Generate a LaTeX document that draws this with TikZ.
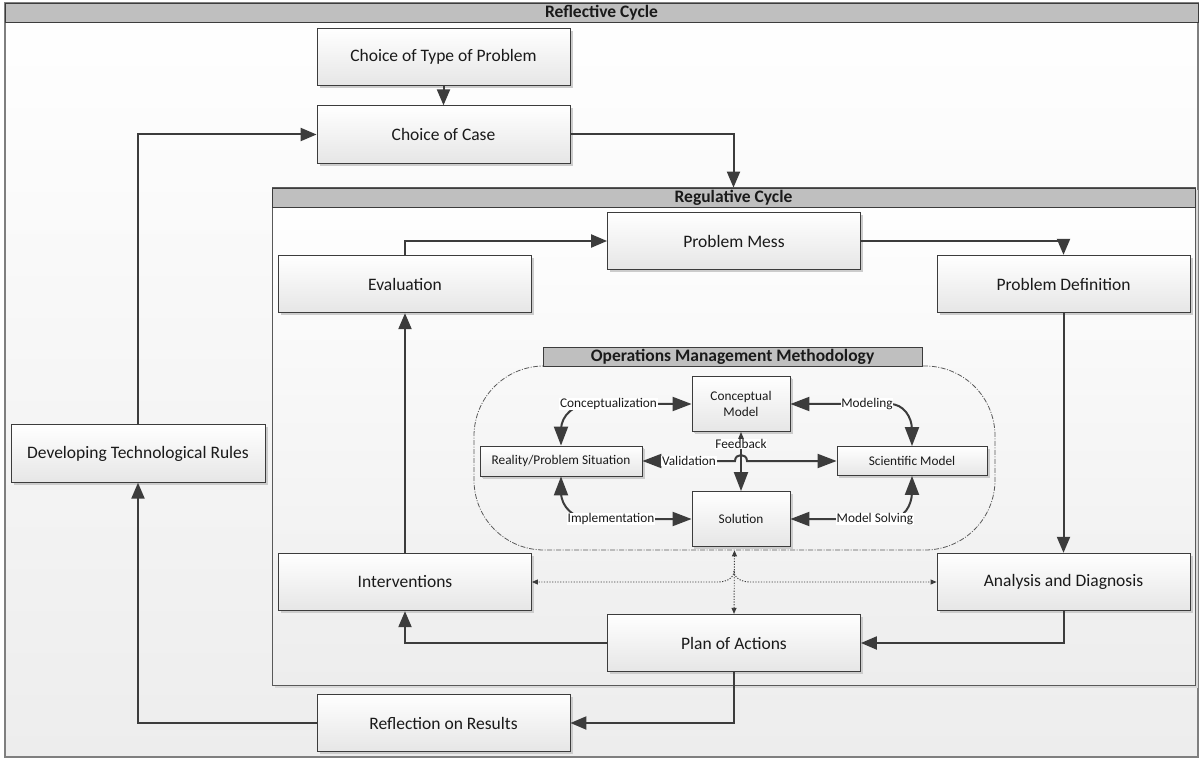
\documentclass[tikz,border=0pt]{standalone}
\usepackage{fontspec}
\setmainfont{Carlito}
\usetikzlibrary{arrows.meta,shadows}
\definecolor{ink}{HTML}{1A1A1A}
\definecolor{wire}{HTML}{3C3C3C}
\definecolor{frameline}{HTML}{7F7F7F}
\definecolor{barfill}{HTML}{BFBFBF}
\definecolor{boxbottom}{HTML}{E6E6E6}
\definecolor{paperbottom}{HTML}{EDEDED}

\begin{document}
\begin{tikzpicture}[x=1pt,y=-1pt,
  every node/.style={text=ink},
  stage/.style={rectangle, draw=wire, line width=0.8pt, top color=white, bottom color=boxbottom,
    minimum width=253pt, minimum height=57.5pt, inner sep=0pt,
    font=\fontsize{17.5}{20}\selectfont,
    drop shadow={shadow xshift=2.5pt, shadow yshift=-2.5pt, fill=black!20, opacity=1}},
  ommbox/.style={stage, font=\fontsize{13.3}{15.5}\selectfont, align=center,
    drop shadow={shadow xshift=2pt, shadow yshift=-2pt, fill=black!20, opacity=1}},
  titlebar/.style={rectangle, draw=wire, line width=0.8pt, fill=barfill, inner sep=0pt,
    minimum height=19pt, font=\fontsize{17.5}{19}\selectfont\bfseries},
  flow/.style={draw=wire, line width=2pt, -{Triangle[length=16pt,width=13pt]}},
  link/.style={draw=wire, line width=2pt,
    {Triangle[length=19pt,width=14pt]}-{Triangle[length=19pt,width=14pt]}},
  shortlink/.style={draw=wire, line width=2pt,
    {Triangle[length=19pt,width=14pt]}-{Triangle[length=15pt,width=12pt]}},
  hint/.style={draw=wire, line width=0.9pt, dash pattern=on 1.2pt off 1.5pt,
    -{Triangle[length=6pt,width=5pt]}},
  tag/.style={fill=white, inner sep=0.6pt, font=\fontsize{13.3}{15}\selectfont},
]
\useasboundingbox (0,0) rectangle (1203,759);

% reflective cycle frame
\path[draw=frameline, line width=1.4pt, top color=white, bottom color=paperbottom]
  (5,3) rectangle (1198,757);
\node[titlebar, minimum width=1193pt] (reflbar) at (601.5,12.5) {Reflective Cycle};

% regulative cycle frame
\path[draw=wire!85, line width=1pt, top color=white, bottom color=paperbottom,
  drop shadow={shadow xshift=2.5pt, shadow yshift=-2.5pt, fill=black!15, opacity=1}]
  (272,188) rectangle (1195,685);
\node[titlebar, minimum width=923pt] (regbar) at (733.5,197.5) {Regulative Cycle};

% stages of both cycles
\node[stage] (ctp) at (443.5,57) {Choice of Type of Problem};
\node[stage] (coc) at (443.5,134.5) {Choice of Case};
\node[stage, minimum width=254pt] (dtr) at (138,453.5) {Developing Technological Rules};
\node[stage] (pm) at (734,241) {Problem Mess};
\node[stage] (eval) at (405,284) {Evaluation};
\node[stage] (pd) at (1063.5,284) {Problem Definition};
\node[stage] (interv) at (405,582) {Interventions};
\node[stage] (ad) at (1063.5,582) {Analysis and Diagnosis};
\node[stage] (poa) at (734,643) {Plan of Actions};
\node[stage] (ror) at (443.5,723) {Reflection on Results};

% operations management methodology
\node[draw=wire!85, line width=0.8pt, dash pattern=on 5pt off 1.5pt on 1pt off 1.5pt,
  rounded corners=70pt, minimum width=521pt, minimum height=184pt, inner sep=0pt]
  (omm) at (734.5,458) {};
\node[titlebar, minimum width=379pt] (ommbar) at (732.5,356.5) {Operations Management Methodology};

\node[ommbox, minimum width=98pt, minimum height=55pt] (cm) at (741,404) {Conceptual\\Model};
\node[ommbox, minimum width=98pt, minimum height=55pt] (sol) at (741,519) {Solution};
\node[ommbox, minimum width=162pt, minimum height=30pt] (rps) at (561,461) {Reality/Problem Situation};
\node[ommbox, minimum width=150pt, minimum height=29pt] (sm) at (912,461) {Scientific Model};

\draw[link] (rps.north) -- (561,430) to[out=90,in=180] (590,404) -- (cm.west);
\draw[link] (cm.east) -- (890,404) to[out=0,in=90] (912,430) -- (sm.north);
\draw[link] (rps.east) -- (735,461) to[out=90,in=90,looseness=1.7] (747,461) -- (sm.west);
\draw[shortlink] (sol.north) -- (cm.south);
\draw[link] (rps.south) -- (561,492) to[out=-90,in=180] (590,519) -- (sol.west);
\draw[link] (sm.south) -- (912,492) to[out=-90,in=0] (890,519) -- (sol.east);

\node[tag] (tconc) at (608.5,404) {Conceptualization};
\node[tag] (tmod) at (867,404) {Modeling};
\node[tag] (tval) at (689,461) {Validation};
\node[tag] (tfeed) at (741,444) {Feedback};
\node[tag] (timpl) at (611,519) {Implementation};
\node[tag] (tsolv) at (875,519) {Model Solving};

% dotted links between the methodology and the regulative cycle
\coordinate (jn) at (734,571);
\draw[hint, {Triangle[length=6pt,width=5pt]}-{Triangle[length=6pt,width=5pt]}] (poa.north) -- (omm.south);
\draw[hint] (jn) to[out=-90,in=0] (718,582) -- (interv.east);
\draw[hint] (jn) to[out=-90,in=180] (750,582) -- (ad.west);

% main flow
\draw[flow] (ctp.south) -- (coc.north);
\draw[flow] (coc.east) -| (regbar.north);
\draw[flow] (dtr.north) |- (coc.west);
\draw[flow] (eval.north) |- (pm.west);
\draw[flow] (pm.east) -| (pd.north);
\draw[flow] (pd.south) -- (ad.north);
\draw[flow] (ad.south) |- (poa.east);
\draw[flow] (poa.west) -| (interv.south);
\draw[flow] (interv.north) -- (eval.south);
\draw[flow] (poa.south) |- (ror.east);
\draw[flow] (ror.west) -| (dtr.south);
\end{tikzpicture}
\end{document}
